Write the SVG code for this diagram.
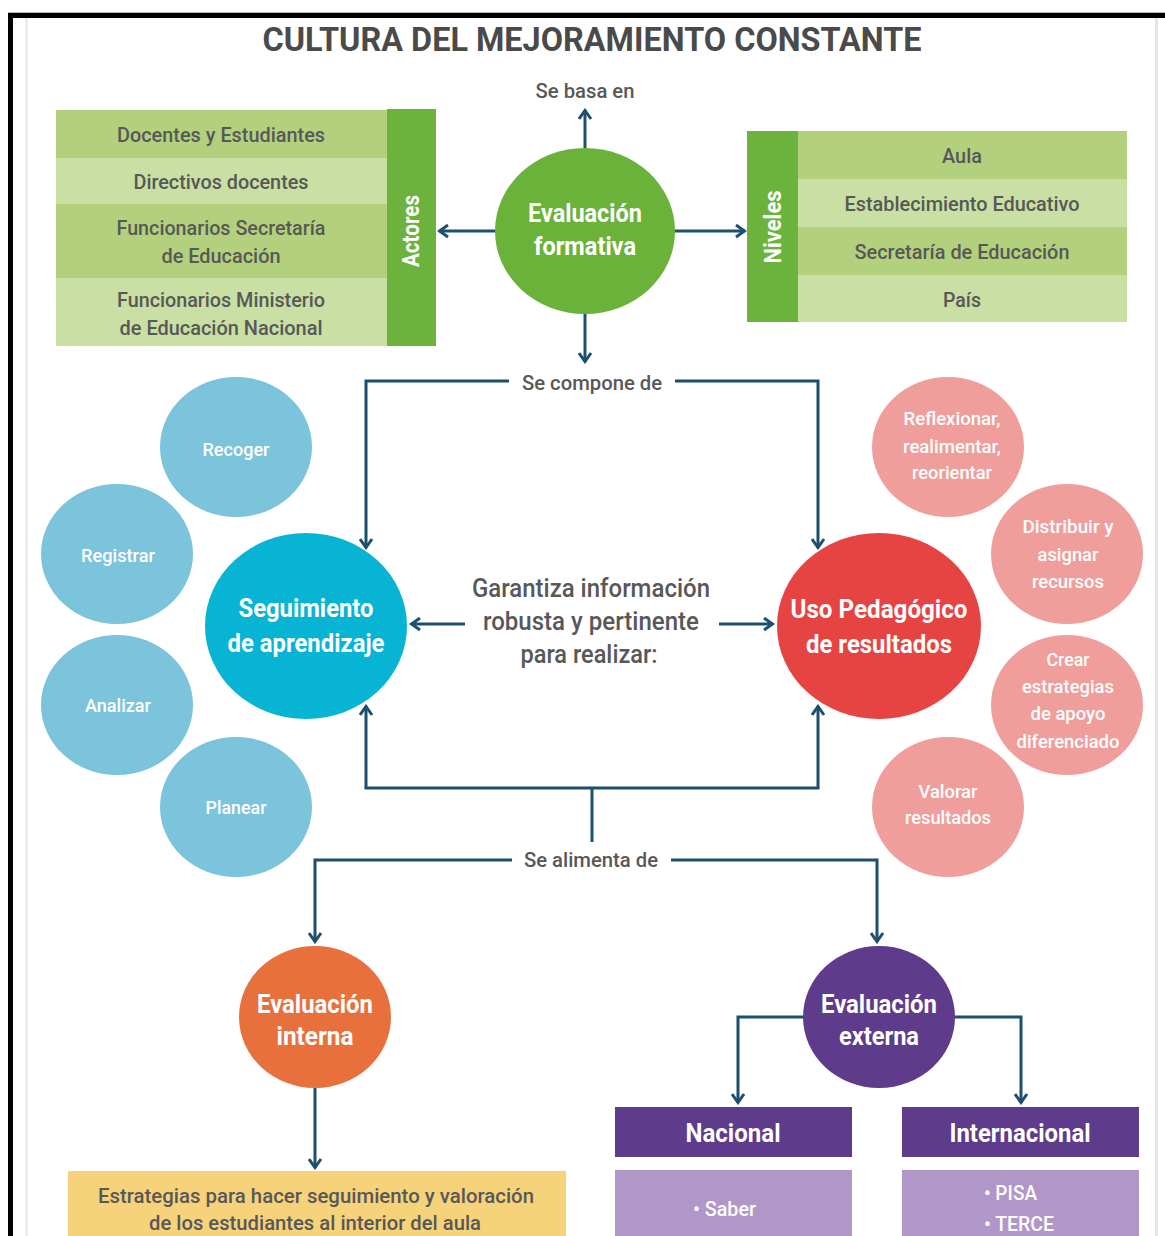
<svg xmlns="http://www.w3.org/2000/svg" width="1165" height="1236" viewBox="0 0 1165 1236">
<style>
text{font-family:Roboto,"Liberation Sans",sans-serif;}
.t{fill:#585858;font-size:21px;font-weight:500;text-anchor:middle;}
.lbl{fill:#585858;font-size:20px;font-weight:500;text-anchor:middle;}
.wb{fill:#ffffff;font-size:25px;font-weight:bold;text-anchor:middle;}
.ws{fill:#ffffff;font-size:19px;font-weight:500;text-anchor:middle;}
.vb{fill:#ffffff;font-size:24px;font-weight:bold;text-anchor:middle;}
.con{fill:none;stroke:#1d4f6e;stroke-width:3;}
.ar{marker-end:url(#arr);}
</style>
<defs>
<marker id="arr" viewBox="0 0 15 15" markerWidth="15" markerHeight="15" refX="13" refY="7.5" orient="auto" markerUnits="userSpaceOnUse">
<path d="M4,1.5 L12.5,7.5 L4,13.5" fill="none" stroke="#1d4f6e" stroke-width="3" stroke-linejoin="miter"/>
</marker>
</defs>
<rect x="0" y="0" width="1165" height="1236" fill="#ffffff"/>
<g id="frame">
<rect x="8" y="12" width="1157" height="1" fill="#bbbbbb"/>
<rect x="8" y="13" width="1157" height="5" fill="#000000"/>
<rect x="8" y="13" width="5" height="1223" fill="#000000"/>
<rect x="25" y="18" width="3" height="1218" fill="#ececec"/>
<rect x="1155" y="18" width="3" height="1218" fill="#e6e6e6"/>
</g>
<g id="title">
<text x="592" y="51" style="font-size:34px;font-weight:bold;fill:#4a4a4a;text-anchor:middle" textLength="659" lengthAdjust="spacingAndGlyphs">CULTURA DEL MEJORAMIENTO CONSTANTE</text>
</g>
<g id="connectors">
<line class="con ar" x1="585" y1="150" x2="585" y2="110"/>
<line class="con ar" x1="497" y1="231" x2="439" y2="231"/>
<line class="con ar" x1="673" y1="231" x2="745" y2="231"/>
<line class="con ar" x1="585" y1="312" x2="585" y2="362"/>
<polyline class="con ar" points="509,381 366,381 366,548"/>
<polyline class="con ar" points="675,381 818,381 818,548"/>
<line class="con ar" x1="465" y1="624" x2="411" y2="624"/>
<line class="con ar" x1="719" y1="624" x2="773" y2="624"/>
<polyline class="con ar" points="366,788 366,706"/>
<polyline class="con ar" points="818,788 818,706"/>
<line class="con" x1="364.5" y1="788" x2="819.5" y2="788"/>
<line class="con" x1="592" y1="788" x2="592" y2="842"/>
<polyline class="con ar" points="512,860 315,860 315,942"/>
<polyline class="con ar" points="671,860 877,860 877,942"/>
<line class="con ar" x1="315" y1="1088" x2="315" y2="1168"/>
<polyline class="con ar" points="805,1017 738,1017 738,1103"/>
<polyline class="con ar" points="953,1017 1021,1017 1021,1103"/>
</g>
<g id="labels">
<text class="lbl" x="585" y="98" style="font-size:20px" textLength="99" lengthAdjust="spacingAndGlyphs">Se basa en</text>
<text class="lbl" x="592" y="390" style="font-size:21px" textLength="140" lengthAdjust="spacingAndGlyphs">Se compone de</text>
<text class="lbl" x="591" y="867" style="font-size:21px" textLength="134" lengthAdjust="spacingAndGlyphs">Se alimenta de</text>
</g>
<g id="center-text">
<text class="t" x="591" y="597" style="font-size:25px" textLength="238" lengthAdjust="spacingAndGlyphs">Garantiza información</text>
<text class="t" x="591" y="630" style="font-size:25px" textLength="216" lengthAdjust="spacingAndGlyphs">robusta y pertinente</text>
<text class="t" x="589" y="663" style="font-size:25px" textLength="137" lengthAdjust="spacingAndGlyphs">para realizar:</text>
</g>
<g id="actores">
<rect x="56" y="110" width="331" height="48" fill="#b3d17d"/>
<rect x="56" y="158" width="331" height="46" fill="#c9dfa3"/>
<rect x="56" y="204" width="331" height="74" fill="#b3d17d"/>
<rect x="56" y="278" width="331" height="68" fill="#c9dfa3"/>
<rect x="387" y="109" width="49" height="237" fill="#6cb33e"/>
<text class="t" x="221" y="142" textLength="208" lengthAdjust="spacingAndGlyphs">Docentes y Estudiantes</text>
<text class="t" x="221" y="189" textLength="175" lengthAdjust="spacingAndGlyphs">Directivos docentes</text>
<text class="t" x="221" y="235" textLength="209" lengthAdjust="spacingAndGlyphs">Funcionarios Secretaría</text>
<text class="t" x="221" y="263" textLength="119" lengthAdjust="spacingAndGlyphs">de Educación</text>
<text class="t" x="221" y="307" textLength="208" lengthAdjust="spacingAndGlyphs">Funcionarios Ministerio</text>
<text class="t" x="221" y="335" textLength="203" lengthAdjust="spacingAndGlyphs">de Educación Nacional</text>
<text class="vb" transform="translate(419,231) rotate(-90)" textLength="72" lengthAdjust="spacingAndGlyphs">Actores</text>
</g>
<g id="niveles">
<rect x="798" y="131" width="329" height="48" fill="#b3d17d"/>
<rect x="798" y="179" width="329" height="48" fill="#c9dfa3"/>
<rect x="798" y="227" width="329" height="48" fill="#b3d17d"/>
<rect x="798" y="275" width="329" height="47" fill="#c9dfa3"/>
<rect x="747" y="131" width="51" height="191" fill="#6cb33e"/>
<text class="t" x="962" y="163" textLength="40" lengthAdjust="spacingAndGlyphs">Aula</text>
<text class="t" x="962" y="211" textLength="235" lengthAdjust="spacingAndGlyphs">Establecimiento Educativo</text>
<text class="t" x="962" y="259" textLength="215" lengthAdjust="spacingAndGlyphs">Secretaría de Educación</text>
<text class="t" x="962" y="307" textLength="38" lengthAdjust="spacingAndGlyphs">País</text>
<text class="vb" transform="translate(781,227) rotate(-90)" textLength="73" lengthAdjust="spacingAndGlyphs">Niveles</text>
</g>
<g id="evaluacion-formativa">
<ellipse cx="585" cy="231" rx="90" ry="83" fill="#6ab23a"/>
<text class="wb" x="585" y="222" textLength="114" lengthAdjust="spacingAndGlyphs">Evaluación</text>
<text class="wb" x="585" y="255" textLength="102" lengthAdjust="spacingAndGlyphs">formativa</text>
</g>
<g id="seguimiento">
<ellipse cx="306" cy="626" rx="101" ry="93" fill="#07b4d3"/>
<text class="wb" x="306" y="617" textLength="135" lengthAdjust="spacingAndGlyphs">Seguimiento</text>
<text class="wb" x="306" y="652" textLength="157" lengthAdjust="spacingAndGlyphs">de aprendizaje</text>
</g>
<g id="recoger">
<ellipse cx="236" cy="447" rx="76" ry="70" fill="#7bc4dc"/>
<text class="ws" x="236" y="456" textLength="67" lengthAdjust="spacingAndGlyphs">Recoger</text>
</g>
<g id="registrar">
<ellipse cx="117" cy="554" rx="76" ry="70" fill="#7bc4dc"/>
<text class="ws" x="118" y="562" textLength="74" lengthAdjust="spacingAndGlyphs">Registrar</text>
</g>
<g id="analizar">
<ellipse cx="117" cy="705" rx="76" ry="70" fill="#7bc4dc"/>
<text class="ws" x="118" y="712" textLength="66" lengthAdjust="spacingAndGlyphs">Analizar</text>
</g>
<g id="planear">
<ellipse cx="236" cy="807" rx="76" ry="70" fill="#7bc4dc"/>
<text class="ws" x="236" y="814" textLength="61" lengthAdjust="spacingAndGlyphs">Planear</text>
</g>
<g id="uso-pedagogico">
<ellipse cx="879" cy="626" rx="102" ry="93" fill="#e54442"/>
<text class="wb" x="879" y="618" textLength="177" lengthAdjust="spacingAndGlyphs">Uso Pedagógico</text>
<text class="wb" x="879" y="653" textLength="146" lengthAdjust="spacingAndGlyphs">de resultados</text>
</g>
<g id="reflexionar">
<ellipse cx="948" cy="447" rx="76" ry="70" fill="#f09e9b"/>
<text class="ws" x="952" y="425" textLength="97" lengthAdjust="spacingAndGlyphs">Reflexionar,</text>
<text class="ws" x="952" y="453" textLength="98" lengthAdjust="spacingAndGlyphs">realimentar,</text>
<text class="ws" x="952" y="479" textLength="80" lengthAdjust="spacingAndGlyphs">reorientar</text>
</g>
<g id="distribuir">
<ellipse cx="1067" cy="554" rx="76" ry="70" fill="#f09e9b"/>
<text class="ws" x="1068" y="533" textLength="91" lengthAdjust="spacingAndGlyphs">Distribuir y</text>
<text class="ws" x="1068" y="561" textLength="61" lengthAdjust="spacingAndGlyphs">asignar</text>
<text class="ws" x="1068" y="588" textLength="72" lengthAdjust="spacingAndGlyphs">recursos</text>
</g>
<g id="crear">
<ellipse cx="1067" cy="705" rx="76" ry="70" fill="#f09e9b"/>
<text class="ws" x="1068" y="666" textLength="43" lengthAdjust="spacingAndGlyphs">Crear</text>
<text class="ws" x="1068" y="693" textLength="92" lengthAdjust="spacingAndGlyphs">estrategias</text>
<text class="ws" x="1068" y="720" textLength="75" lengthAdjust="spacingAndGlyphs">de apoyo</text>
<text class="ws" x="1068" y="748" textLength="103" lengthAdjust="spacingAndGlyphs">diferenciado</text>
</g>
<g id="valorar">
<ellipse cx="948" cy="807" rx="76" ry="70" fill="#f09e9b"/>
<text class="ws" x="948" y="798" textLength="59" lengthAdjust="spacingAndGlyphs">Valorar</text>
<text class="ws" x="948" y="824" textLength="86" lengthAdjust="spacingAndGlyphs">resultados</text>
</g>
<g id="evaluacion-interna">
<ellipse cx="315" cy="1017" rx="76" ry="71" fill="#e8703d"/>
<text class="wb" x="315" y="1013" textLength="116" lengthAdjust="spacingAndGlyphs">Evaluación</text>
<text class="wb" x="315" y="1045" textLength="77" lengthAdjust="spacingAndGlyphs">interna</text>
</g>
<g id="estrategias">
<rect x="68" y="1171" width="498" height="65" fill="#f6d27b"/>
<text class="t" x="316" y="1203" textLength="436" lengthAdjust="spacingAndGlyphs">Estrategias para hacer seguimiento y valoración</text>
<text class="t" x="315" y="1230" textLength="332" lengthAdjust="spacingAndGlyphs">de los estudiantes al interior del aula</text>
</g>
<g id="evaluacion-externa">
<ellipse cx="879" cy="1017" rx="76" ry="71" fill="#5e3b8b"/>
<text class="wb" x="879" y="1013" textLength="116" lengthAdjust="spacingAndGlyphs">Evaluación</text>
<text class="wb" x="879" y="1045" textLength="80" lengthAdjust="spacingAndGlyphs">externa</text>
</g>
<g id="nacional">
<rect x="615" y="1107" width="237" height="50" fill="#5e3b8b"/>
<text class="wb" x="733" y="1142" textLength="95" lengthAdjust="spacingAndGlyphs">Nacional</text>
<rect x="615" y="1170" width="237" height="66" fill="#b097c7"/>
<text x="693" y="1216" style="fill:#ffffff;font-size:21px;font-weight:500" textLength="63" lengthAdjust="spacingAndGlyphs">• Saber</text>
</g>
<g id="internacional">
<rect x="902" y="1107" width="237" height="50" fill="#5e3b8b"/>
<text class="wb" x="1020" y="1142" textLength="141" lengthAdjust="spacingAndGlyphs">Internacional</text>
<rect x="902" y="1170" width="237" height="66" fill="#b097c7"/>
<text x="984" y="1200" style="fill:#ffffff;font-size:21px;font-weight:500" textLength="53" lengthAdjust="spacingAndGlyphs">• PISA</text>
<text x="984" y="1231" style="fill:#ffffff;font-size:21px;font-weight:500" textLength="70" lengthAdjust="spacingAndGlyphs">• TERCE</text>
</g>
</svg>
